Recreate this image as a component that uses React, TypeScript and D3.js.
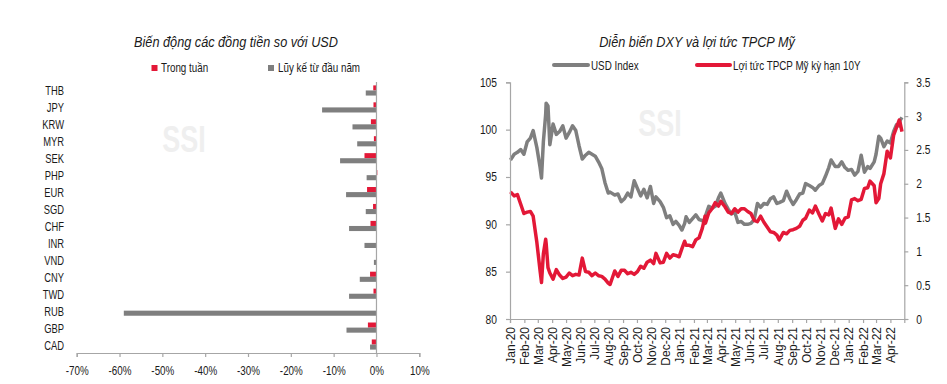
import React, { useEffect, useRef } from "react";
import * as d3 from "d3";

// Left chart: currency moves vs USD (%)
const currencies = ["THB", "JPY", "KRW", "MYR", "SEK", "PHP", "EUR", "SGD", "CHF", "INR", "VND", "CNY", "TWD", "RUB", "GBP", "CAD"];
const weekChange = [-0.75, -0.7, -1.3, -0.6, -2.8, 0.2, -2.2, -0.8, -1.4, -0.1, 0, -1.5, -0.7, 0, -2.0, -1.1];
const ytdChange = [-2.5, -12.7, -5.6, -4.5, -8.5, -2.3, -7.1, -2.5, -6.4, -2.8, -0.6, -3.9, -6.4, -59, -7.0, -1.5];
const pctTicks = [-70, -60, -50, -40, -30, -20, -10, 0, 10];

// Right chart: DXY and US 10Y yield (weekly readings)
const weekDates = [
  "2020-01-02", "2020-01-10", "2020-01-17", "2020-01-24", "2020-01-31", "2020-02-07", "2020-02-14", "2020-02-20", "2020-02-28",
  "2020-03-06", "2020-03-09", "2020-03-13", "2020-03-18", "2020-03-19", "2020-03-23", "2020-03-27", "2020-04-03", "2020-04-10",
  "2020-04-17", "2020-04-24", "2020-05-01", "2020-05-08", "2020-05-15", "2020-05-22", "2020-05-29", "2020-06-05", "2020-06-12",
  "2020-06-19", "2020-06-26", "2020-07-03", "2020-07-10", "2020-07-17", "2020-07-24", "2020-07-31", "2020-08-04", "2020-08-14",
  "2020-08-21", "2020-08-28", "2020-09-04", "2020-09-11", "2020-09-18", "2020-09-25", "2020-10-02", "2020-10-09", "2020-10-16",
  "2020-10-23", "2020-10-30", "2020-11-06", "2020-11-11", "2020-11-20", "2020-11-27", "2020-12-04", "2020-12-11", "2020-12-18",
  "2020-12-24", "2020-12-31", "2021-01-06", "2021-01-12", "2021-01-15", "2021-01-22", "2021-01-29", "2021-02-05", "2021-02-12",
  "2021-02-19", "2021-02-25", "2021-02-26", "2021-03-05", "2021-03-12", "2021-03-19", "2021-03-26", "2021-03-31", "2021-04-09",
  "2021-04-16", "2021-04-23", "2021-04-30", "2021-05-07", "2021-05-14", "2021-05-21", "2021-05-28", "2021-06-04", "2021-06-11",
  "2021-06-18", "2021-06-25", "2021-07-02", "2021-07-09", "2021-07-16", "2021-07-23", "2021-07-30", "2021-08-04", "2021-08-13",
  "2021-08-20", "2021-08-27", "2021-09-03", "2021-09-10", "2021-09-17", "2021-09-24", "2021-09-30", "2021-10-08", "2021-10-15",
  "2021-10-21", "2021-10-29", "2021-11-05", "2021-11-12", "2021-11-19", "2021-11-24", "2021-12-03", "2021-12-10", "2021-12-17",
  "2021-12-24", "2021-12-31", "2022-01-07", "2022-01-14", "2022-01-21", "2022-01-28", "2022-02-04", "2022-02-11", "2022-02-16",
  "2022-02-25", "2022-03-01", "2022-03-07", "2022-03-11", "2022-03-18", "2022-03-25", "2022-04-01", "2022-04-08", "2022-04-14",
  "2022-04-20", "2022-04-22", "2022-04-26",
];
const usdIndex = [
  96.8, 97.4, 97.6, 97.9, 97.4, 98.7, 99.1, 99.9, 98.1,
  96.0, 94.9, 98.7, 101.6, 102.8, 102.5, 98.4, 100.6, 99.5,
  99.8, 100.4, 99.1, 99.7, 100.4, 99.9, 98.3, 96.9, 97.3,
  97.6, 97.4, 97.2, 96.6, 95.9, 94.4, 93.3, 93.4, 93.1,
  93.2, 92.4, 92.7, 93.3, 92.9, 94.6, 93.8, 93.0, 93.7,
  92.8, 94.0, 92.2, 92.9, 92.4, 91.8, 90.7, 90.9, 90.0,
  90.3, 89.9, 89.4, 90.1, 90.8, 90.2, 90.6, 91.0, 90.5,
  90.4, 90.1, 90.9, 91.9, 91.7, 91.9, 92.8, 93.3, 92.2,
  91.6, 91.1, 91.3, 90.2, 90.3, 90.0, 90.0, 90.1, 90.5,
  92.2, 91.8, 92.2, 92.1, 92.7, 92.9, 92.2, 92.3, 92.5,
  93.5, 92.7, 92.1, 92.6, 93.2, 93.3, 94.3, 94.1, 93.9,
  93.6, 94.1, 94.3, 95.1, 96.0, 96.8, 96.1, 96.1, 96.6,
  96.0, 95.7, 95.8, 95.2, 95.6, 97.3, 95.5, 96.1, 95.9,
  96.6, 97.4, 99.3, 99.1, 98.2, 98.8, 98.6, 99.8, 100.5,
  100.4, 101.0, 101.3,
];
const ust10y = [
  1.88, 1.82, 1.84, 1.70, 1.56, 1.58, 1.59, 1.52, 1.13,
  0.71, 0.54, 0.96, 1.18, 1.12, 0.76, 0.68, 0.59, 0.73,
  0.65, 0.60, 0.62, 0.68, 0.64, 0.66, 0.65, 0.90, 0.70,
  0.69, 0.64, 0.68, 0.64, 0.63, 0.59, 0.53, 0.51, 0.71,
  0.63, 0.72, 0.72, 0.67, 0.69, 0.66, 0.70, 0.78, 0.75,
  0.84, 0.87, 0.82, 0.97, 0.83, 0.84, 0.97, 0.90, 0.95,
  0.94, 0.92, 1.04, 1.15, 1.09, 1.09, 1.07, 1.17, 1.20,
  1.34, 1.52, 1.42, 1.57, 1.63, 1.72, 1.67, 1.74, 1.66,
  1.58, 1.56, 1.63, 1.58, 1.63, 1.63, 1.59, 1.56, 1.46,
  1.44, 1.52, 1.43, 1.36, 1.29, 1.28, 1.24, 1.17, 1.28,
  1.26, 1.31, 1.32, 1.34, 1.37, 1.46, 1.49, 1.61, 1.57,
  1.67, 1.55, 1.45, 1.56, 1.54, 1.64, 1.34, 1.48, 1.40,
  1.49, 1.51, 1.76, 1.78, 1.75, 1.77, 1.93, 1.94, 2.04,
  1.97, 1.72, 1.78, 2.00, 2.15, 2.48, 2.38, 2.72, 2.83,
  2.94, 2.90, 2.77,
];
const dxyTicks = [80, 85, 90, 95, 100, 105];
const yieldTicks = [0, 0.5, 1, 1.5, 2, 2.5, 3, 3.5];

const FONT = "'Liberation Sans', Arial, sans-serif";
const RED = "#e31837";
const GRAY = "#7f7f7f";
const AXIS = "#a6a6a6";
const TEXT = "#1a1a1a";
const NARROW = 0.82; // squeeze Arial metrics into an Arial Narrow look

// move x/y into a transform so the glyphs can be squeezed horizontally
const squeeze = (sel: any, sx: number) => {
  sel.each(function (this: SVGTextElement) {
    const el = d3.select(this);
    const x = +(el.attr("x") || 0);
    const y = +(el.attr("y") || 0);
    el.attr("x", 0).attr("y", 0).attr("transform", `translate(${x},${y}) scale(${sx},1)`);
  });
};

const App = () => {
  const ref = useRef<SVGSVGElement>(null);

  useEffect(() => {
    const svg = d3.select(ref.current);
    svg.selectAll("*").remove();
    svg.attr("font-family", FONT);

    // ---------- left chart ----------
    const x = d3.scaleLinear().domain([-70, 10]).range([76.7, 419.3]);
    const y = d3.scaleBand().domain(currencies).range([82, 353]).paddingInner(0.4).paddingOuter(0.2);
    const sub = d3.scaleBand().domain(["week", "ytd"]).range([0, y.bandwidth()]);

    svg.append("text").attr("x", 184).attr("y", 152).attr("text-anchor", "middle")
      .attr("font-size", 36).attr("font-weight", "bold").attr("fill", "#efefef").text("SSI")
      .call(squeeze, 0.75);

    const titleL = svg.append("text").attr("x", 236).attr("y", 47).attr("text-anchor", "middle")
      .attr("font-size", 15.5).attr("font-style", "italic").attr("fill", TEXT)
      .text("Biến động các đồng tiền so với USD");
    squeeze(titleL, NARROW);

    const legL = svg.append("g").attr("font-size", 12).attr("fill", TEXT);
    legL.append("rect").attr("x", 151.5).attr("y", 65).attr("width", 6).attr("height", 6).attr("fill", RED);
    legL.append("text").attr("x", 161).attr("y", 72).text("Trong tuần");
    legL.append("rect").attr("x", 268).attr("y", 65).attr("width", 6).attr("height", 6).attr("fill", GRAY);
    legL.append("text").attr("x", 278).attr("y", 72).text("Lũy kế từ đầu năm");
    squeeze(legL.selectAll("text"), NARROW);

    const rows = currencies.map((c, i) => ({ c, week: weekChange[i], ytd: ytdChange[i] }));
    const g = svg.append("g");
    g.selectAll(".wk").data(rows).enter().append("rect")
      .attr("x", (d) => x(Math.min(0, d.week)))
      .attr("y", (d) => (y(d.c) as number) + (sub("week") as number))
      .attr("width", (d) => Math.abs(x(d.week) - x(0)))
      .attr("height", sub.bandwidth())
      .attr("fill", RED);
    g.selectAll(".ytd").data(rows).enter().append("rect")
      .attr("x", (d) => x(Math.min(0, d.ytd)))
      .attr("y", (d) => (y(d.c) as number) + (sub("ytd") as number))
      .attr("width", (d) => Math.abs(x(d.ytd) - x(0)))
      .attr("height", sub.bandwidth())
      .attr("fill", GRAY);

    svg.append("line").attr("x1", x(0)).attr("x2", x(0)).attr("y1", 82).attr("y2", 353)
      .attr("stroke", AXIS).attr("stroke-width", 1.2);

    const lbls = g.selectAll(".lbl").data(currencies).enter().append("text")
      .attr("x", 64).attr("y", (d) => (y(d) as number) + y.bandwidth() / 2 + 0.5)
      .attr("dy", "0.36em").attr("text-anchor", "end").attr("font-size", 12.5).attr("fill", TEXT)
      .text((d) => d);
    squeeze(lbls, 0.75);

    const xAxis = svg.append("g").attr("transform", "translate(0,353)")
      .call(d3.axisBottom(x).tickValues(pctTicks).tickSize(4).tickPadding(9).tickFormat((d) => `${d}%`));
    xAxis.selectAll("path, line").attr("stroke", AXIS).attr("stroke-width", 1.2);
    xAxis.selectAll("text").attr("font-size", 12).attr("fill", TEXT).attr("font-family", FONT);
    squeeze(xAxis.selectAll("text"), 0.82);

    // ---------- right chart ----------
    const dates = weekDates.map((s) => new Date(s + "T00:00:00"));
    const t = d3.scaleTime().domain([new Date(2020, 0, 1), new Date(2022, 4, 1)]).range([510, 904.3]);
    const yL = d3.scaleLinear().domain([80, 105]).range([319, 82.3]);
    const yR = d3.scaleLinear().domain([0, 3.5]).range([319, 82.3]);

    svg.append("text").attr("x", 660).attr("y", 136).attr("text-anchor", "middle")
      .attr("font-size", 36).attr("font-weight", "bold").attr("fill", "#efefef").text("SSI")
      .call(squeeze, 0.75);

    const titleR = svg.append("text").attr("x", 697).attr("y", 47).attr("text-anchor", "middle")
      .attr("font-size", 15.5).attr("font-style", "italic").attr("fill", TEXT)
      .text("Diễn biến DXY và lợi tức TPCP Mỹ");
    squeeze(titleR, NARROW);

    const legR = svg.append("g").attr("font-size", 12).attr("fill", TEXT);
    legR.append("line").attr("x1", 554).attr("x2", 588).attr("y1", 65).attr("y2", 65)
      .attr("stroke", GRAY).attr("stroke-width", 4).attr("stroke-linecap", "round");
    legR.append("text").attr("x", 591).attr("y", 69.5).text("USD Index");
    legR.append("line").attr("x1", 697).attr("x2", 730).attr("y1", 65).attr("y2", 65)
      .attr("stroke", RED).attr("stroke-width", 4).attr("stroke-linecap", "round");
    legR.append("text").attr("x", 733).attr("y", 69.5).text("Lợi tức TPCP Mỹ kỳ hạn 10Y");
    squeeze(legR.selectAll("text"), NARROW);

    const lineL = d3.line<number>().x((_, i) => t(dates[i])).y((d) => yL(d));
    const lineR = d3.line<number>().x((_, i) => t(dates[i])).y((d) => yR(d));
    svg.append("path").attr("d", lineL(usdIndex)).attr("fill", "none").attr("stroke", GRAY)
      .attr("stroke-width", 3.5).attr("stroke-linejoin", "round");
    svg.append("path").attr("d", lineR(ust10y)).attr("fill", "none").attr("stroke", RED)
      .attr("stroke-width", 3.5).attr("stroke-linejoin", "round");

    const left = svg.append("g").attr("transform", "translate(510,0)")
      .call(d3.axisLeft(yL).tickValues(dxyTicks).tickSize(4).tickPadding(9));
    left.selectAll("path, line").attr("stroke", AXIS).attr("stroke-width", 1.2);
    left.selectAll("text").attr("font-size", 12.5).attr("fill", TEXT).attr("font-family", FONT);
    squeeze(left.selectAll("text"), NARROW);

    const right = svg.append("g").attr("transform", "translate(904.3,0)")
      .call(d3.axisRight(yR).tickValues(yieldTicks).tickSize(4).tickPadding(8).tickFormat((d) => String(d)));
    right.selectAll("path, line").attr("stroke", AXIS).attr("stroke-width", 1.2);
    right.selectAll("text").attr("font-size", 12.5).attr("fill", TEXT).attr("font-family", FONT);
    squeeze(right.selectAll("text"), NARROW);

    const months = d3.timeMonth.range(new Date(2020, 0, 1), new Date(2022, 4, 1));
    const bottom = svg.append("g").attr("transform", "translate(0,319)")
      .call(d3.axisBottom(t).tickValues(months).tickSize(4).tickFormat((d) => d3.timeFormat("%b-%y")(d as Date)));
    bottom.selectAll("path, line").attr("stroke", AXIS).attr("stroke-width", 1.2);
    bottom.selectAll("text")
      .attr("font-size", 12).attr("fill", TEXT).attr("font-family", FONT)
      .attr("text-anchor", "end")
      .attr("transform", "rotate(-90)")
      .attr("x", -8).attr("y", 0).attr("dy", "0.35em");
  }, []);

  return (
    <svg ref={ref} width={947} height={384} style={{ position: "absolute", left: 0, top: 0, background: "#fff" }} />
  );
};

export default App;
